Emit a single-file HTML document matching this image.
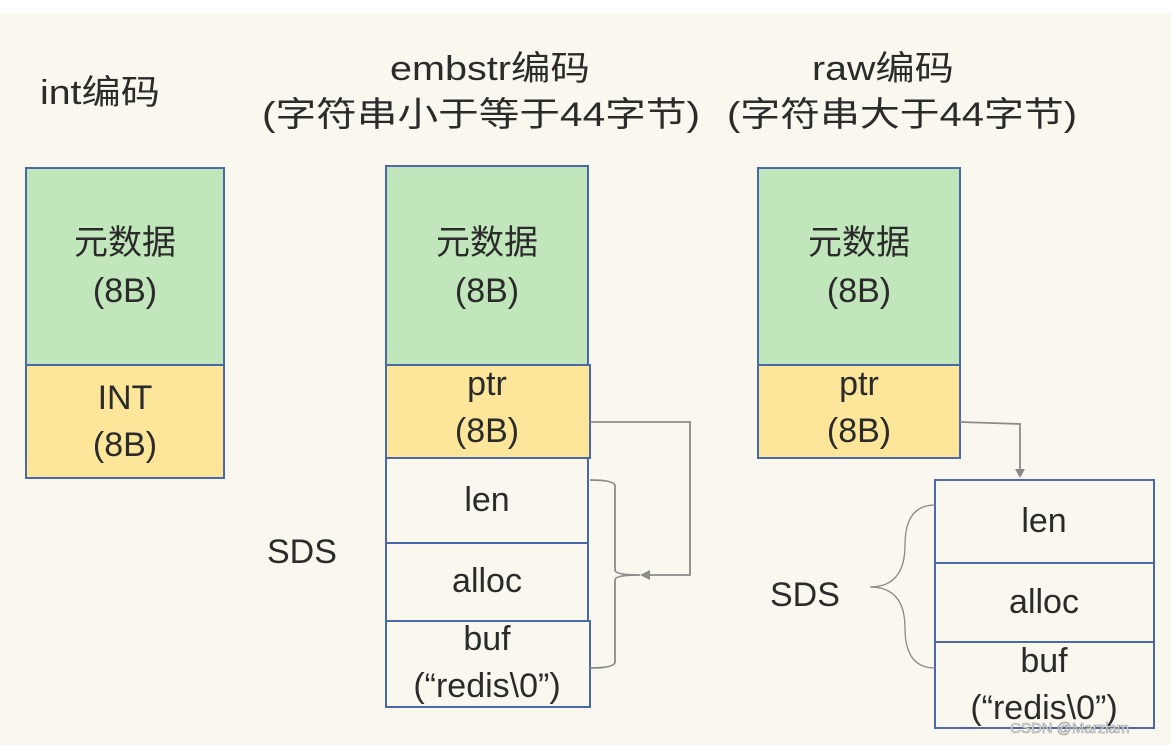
<!DOCTYPE html>
<html><head><meta charset="utf-8"><style>
html,body{margin:0;padding:0;background:#faf8ee;}
svg{display:block}
text{font-family:"Liberation Sans","Noto Sans CJK SC",sans-serif;fill:#2b2b2b;}
</style></head><body>
<svg width="1171" height="745" viewBox="0 0 1171 745" xmlns="http://www.w3.org/2000/svg">
<rect x="0" y="0" width="1171" height="745" fill="#faf8ee"/>
<rect x="0" y="0" width="1171" height="14" fill="#ffffff"/>

<g font-size="34">
<text x="40" y="104" textLength="120" lengthAdjust="spacingAndGlyphs">int编码</text>
<text x="390" y="80" textLength="200" lengthAdjust="spacingAndGlyphs">embstr编码</text>
<text x="262" y="126" textLength="438" lengthAdjust="spacingAndGlyphs">(字符串小于等于44字节)</text>
<text x="812" y="80" textLength="142" lengthAdjust="spacingAndGlyphs">raw编码</text>
<text x="727" y="126" textLength="350" lengthAdjust="spacingAndGlyphs">(字符串大于44字节)</text>
</g>

<g stroke="#4a69a8" stroke-width="2">
<!-- int -->
<rect x="26" y="168" width="198" height="197" fill="#c1e6bb"/>
<rect x="26" y="365" width="198" height="113" fill="#fde69a"/>
<!-- embstr -->
<rect x="386" y="166" width="202" height="199" fill="#c1e6bb"/>
<rect x="386" y="365" width="204" height="93" fill="#fde69a"/>
<rect x="386" y="458" width="202" height="85" fill="#faf8ee"/>
<rect x="386" y="543" width="202" height="78" fill="#faf8ee"/>
<rect x="386" y="621" width="204" height="86" fill="#faf8ee"/>
<!-- raw -->
<rect x="758" y="168" width="202" height="197" fill="#c1e6bb"/>
<rect x="758" y="365" width="202" height="93" fill="#fde69a"/>
<rect x="935" y="480" width="219" height="83" fill="#faf8ee"/>
<rect x="935" y="563" width="219" height="79" fill="#faf8ee"/>
<rect x="935" y="642" width="219" height="86" fill="#faf8ee"/>
</g>

<g font-size="34" text-anchor="middle">
<text x="125" y="254">元数据</text>
<text x="125" y="302">(8B)</text>
<text x="125" y="409">INT</text>
<text x="125" y="456">(8B)</text>

<text x="487" y="254">元数据</text>
<text x="487" y="302">(8B)</text>
<text x="487" y="395">ptr</text>
<text x="487" y="442">(8B)</text>
<text x="487" y="511">len</text>
<text x="487" y="592">alloc</text>
<text x="487" y="650">buf</text>
<text x="487" y="697">(“redis\0”)</text>

<text x="859" y="254">元数据</text>
<text x="859" y="302">(8B)</text>
<text x="859" y="395">ptr</text>
<text x="859" y="442">(8B)</text>
<text x="1044" y="532">len</text>
<text x="1044" y="613">alloc</text>
<text x="1044" y="672">buf</text>
<text x="1044" y="719">(“redis\0”)</text>
</g>
<text x="267" y="563" font-size="34">SDS</text>
<text x="770" y="606" font-size="34">SDS</text>

<g fill="none" stroke="#8a8a8a" stroke-width="1.8">
<path d="M590 422 L690 422 L690 575 L648 575"/>
<path d="M590 480 Q615 480 615 486 L615 570 Q615 575 640 575 Q615 575 615 580 L615 662 Q615 668 590 668"/>
<path d="M960 422 L1020 424 L1020 470"/>
<path d="M935 505 Q905 505 905 545 Q905 587 870 587 Q905 587 905 628 Q905 668 935 668" stroke-width="1.3"/>
</g>
<polygon points="640,575 650,570 650,580" fill="#8a8a8a"/>
<polygon points="1020,478 1015,469 1025,469" fill="#8a8a8a"/>

<text x="1010" y="733" font-size="15" fill="#ffffff" stroke="#9a9a9a" stroke-width="0.6" style="fill:#f0f0f0">CSDN @Marzlam</text>
</svg>
</body></html>
